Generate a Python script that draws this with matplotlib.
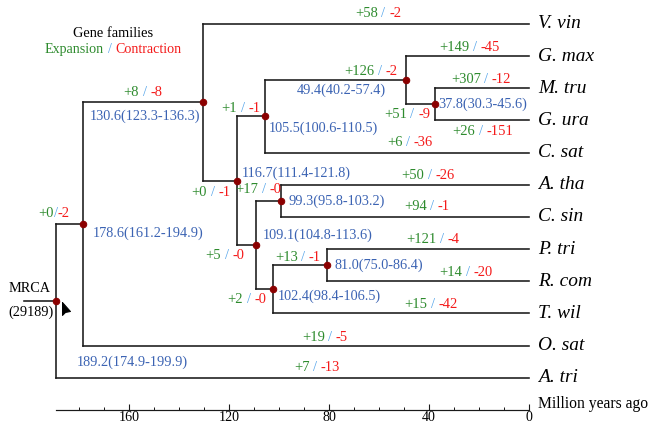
import matplotlib
matplotlib.use('Agg')
import matplotlib.pyplot as plt
import matplotlib.transforms as mtransforms
from matplotlib.offsetbox import TextArea, HPacker, AnnotationBbox

plt.rcParams['font.family'] = ['Liberation Serif', 'DejaVu Serif']

# ---- data -------------------------------------------------------------
leaves = ['V. vin', 'G. max', 'M. tru', 'G. ura', 'C. sat', 'A. tha',
          'C. sin', 'P. tri', 'R. com', 'T. wil', 'O. sat', 'A. tri']

node_names = ['root', 'n178', 'n130', 'n116', 'n105', 'n49', 'n37',
              'n109', 'n99', 'n102', 'n81']
node_age = [189.2, 178.6, 130.6, 116.7, 105.5, 49.4, 37.8, 109.1, 99.3, 102.4, 81.0]
node_lo = [174.9, 161.2, 123.3, 111.4, 100.6, 40.2, 30.3, 104.8, 95.8, 98.4, 75.0]
node_hi = [199.9, 194.9, 136.3, 121.8, 110.5, 57.4, 45.6, 113.6, 103.2, 106.5, 86.4]
node_children = {
    'root': ['n178', 'A. tri'],
    'n178': ['n130', 'O. sat'],
    'n130': ['V. vin', 'n116'],
    'n116': ['n105', 'n109'],
    'n105': ['n49', 'C. sat'],
    'n49': ['G. max', 'n37'],
    'n37': ['M. tru', 'G. ura'],
    'n109': ['n99', 'n102'],
    'n99': ['A. tha', 'C. sin'],
    'n102': ['n81', 'T. wil'],
    'n81': ['P. tri', 'R. com'],
}

# gene family expansion / contraction on the branch leading to each clade
branch = ['V. vin', 'G. max', 'n49', 'M. tru', 'n37', 'G. ura', 'C. sat',
          'A. tha', 'C. sin', 'P. tri', 'R. com', 'T. wil', 'O. sat', 'A. tri',
          'n130', 'n105', 'n116', 'n99', 'n178', 'n109', 'n81', 'n102']
expansion = [58, 149, 126, 307, 51, 26, 6, 50, 94, 121, 14, 15, 19, 7,
             8, 1, 0, 17, 0, 5, 13, 2]
contraction = [2, 45, 2, 12, 9, 151, 36, 26, 1, 4, 20, 42, 5, 13,
               8, 1, 1, 0, 2, 0, 1, 0]

mrca_families = 29189
ticks_major = [160, 120, 80, 40, 0]
ticks_minor = [180, 170, 150, 140, 130, 110, 100, 90, 70, 60, 50, 30, 20, 10]

# ---- layout (label placement only) -------------------------------------
# count label: x position (Myr) along the branch, vertical pixel shift (down +)
count_pos = {
    'V. vin': (60.4, -10), 'G. max': (23.6, -9), 'n49': (63.2, -9),
    'M. tru': (19.2, -9), 'n37': (48.8, 10), 'G. ura': (18.4, 11),
    'C. sat': (47.6, -10), 'A. tha': (40.4, -9), 'C. sin': (40.8, -10),
    'P. tri': (38.4, -10), 'R. com': (25.2, -9), 'T. wil': (39.2, -9),
    'O. sat': (81.6, -8), 'A. tri': (84.8, -10), 'n130': (154.4, -10),
    'n105': (115.2, -8), 'n116': (127.2, 12), 'n99': (108.4, -11),
    'n178': (190.0, -11), 'n109': (121.6, 10), 'n81': (92.4, -8),
    'n102': (112.8, 10),
}
# age label: pixel offset of its left edge from the node (down +)
age_off = {
    'root': (21, 61), 'n178': (10, 9), 'n130': (-113, 14), 'n116': (5, -8),
    'n105': (4, 12), 'n49': (-109, 10), 'n37': (4, 0), 'n109': (7, -10),
    'n99': (8, 0), 'n102': (5, 7), 'n81': (8, 0),
}

GREEN = '#2E8B2E'
RED = '#F41A1A'
BLUE = '#3B63B3'
SLASH = '#55A5EA'
LINE = '#1A1A1A'
DOT = '#8B0000'

FS_COUNT = 14.5
FS_AGE = 14.3
FS_LEAF = 19.4

# ---- tree coordinates --------------------------------------------------
age = dict(zip(node_names, node_age))
ypos = {}
for i, lf in enumerate(leaves):
    age[lf] = 0.0
    ypos[lf] = float(i)


def place(n):
    if n in ypos:
        return ypos[n]
    ys = [place(c) for c in node_children[n]]
    ypos[n] = sum(ys) / len(ys)
    return ypos[n]


place('root')

# ---- figure -------------------------------------------------------------
W, H = 650, 426
fig = plt.figure(figsize=(W / 72, H / 72), dpi=72)
ax = fig.add_axes([56 / W, 16 / H, (529 - 56) / W, 1 - 16 / H])
ax.set_xlim(189.2, 0)
ax.set_ylim(12, -24 / 32.17)

for s in ['top', 'left', 'right']:
    ax.spines[s].set_visible(False)
ax.spines['bottom'].set_linewidth(1.2)
ax.spines['bottom'].set_color(LINE)
ax.set_yticks([])
ax.set_xticks(ticks_major)
ax.set_xticklabels([str(t) for t in ticks_major])
ax.set_xticks(ticks_minor, minor=True)
ax.tick_params(axis='x', which='major', direction='in', length=6, width=1.1,
               pad=1, labelsize=14, color=LINE)
ax.tick_params(axis='x', which='minor', direction='in', length=3.5, width=1.0,
               color=LINE)
ax.annotate('Million years ago', (1.0, 0.0), xycoords='axes fraction',
            xytext=(9, -2), textcoords='offset points', fontsize=15.6,
            ha='left', va='bottom', annotation_clip=False)

# branches
for n in node_names:
    cs = node_children[n]
    ys = [ypos[c] for c in cs]
    ax.plot([age[n], age[n]], [min(ys), max(ys)], color=LINE, lw=1.6,
            solid_capstyle='projecting', clip_on=False)
    for c in cs:
        ax.plot([age[n], age[c]], [ypos[c], ypos[c]], color=LINE, lw=1.6,
                solid_capstyle='projecting', clip_on=False)
# root stub
ax.plot([age['root'], age['root'] + 12.8], [ypos['root'], ypos['root']],
        color=LINE, lw=1.6, clip_on=False)

ax.plot([age[n] for n in node_names], [ypos[n] for n in node_names], 'o',
        color=DOT, ms=6.5, zorder=4, clip_on=False)

# leaf names
for lf in leaves:
    ax.annotate(lf, (0, ypos[lf]), xytext=(9, 0), textcoords='offset points',
                fontsize=FS_LEAF, style='italic', ha='left', va='center')

# node ages
for n, a, lo, hi in zip(node_names, node_age, node_lo, node_hi):
    dx, dy = age_off[n]
    ax.annotate(f'{a:.1f}({lo:.1f}-{hi:.1f})', (a, ypos[n]), xytext=(dx, -dy),
                textcoords='offset points', fontsize=FS_AGE, color=BLUE,
                ha='left', va='center', annotation_clip=False)

# expansion / contraction counts
for b, e, c in zip(branch, expansion, contraction):
    x, dy = count_pos[b]
    sep = 0 if b == 'n178' else 3.6
    parts = [TextArea(f'+{e}', textprops=dict(color=GREEN, fontsize=FS_COUNT)),
             TextArea('/', textprops=dict(color=SLASH, fontsize=FS_COUNT)),
             TextArea(f'-{c}', textprops=dict(color=RED, fontsize=FS_COUNT))]
    box = HPacker(children=parts, sep=sep, pad=0, align='baseline')
    ab = AnnotationBbox(box, (x, ypos[b]), xybox=(0, -dy), xycoords='data',
                        boxcoords='offset points', frameon=False, pad=0,
                        box_alignment=(0.5, 0.5), annotation_clip=False)
    ax.add_artist(ab)

# legend text
ax.text(166.4, 0.31, 'Gene families', fontsize=14.4, ha='center', va='center')
leg = HPacker(children=[TextArea('Expansion', textprops=dict(color=GREEN, fontsize=14)),
                        TextArea('/', textprops=dict(color=SLASH, fontsize=14)),
                        TextArea('Contraction', textprops=dict(color=RED, fontsize=14))],
              sep=3.5, pad=0, align='baseline')
ax.add_artist(AnnotationBbox(leg, (166.4, 0.31), xybox=(0, -16), xycoords='data',
                             boxcoords='offset points', frameon=False, pad=0,
                             box_alignment=(0.5, 0.5), annotation_clip=False))

# MRCA
ax.annotate('MRCA', (age['root'], ypos['root']), xytext=(-26, 12),
            textcoords='offset points', fontsize=14.3, ha='center', va='center',
            annotation_clip=False)
ax.annotate(f'({mrca_families})', (age['root'], ypos['root']), xytext=(-25, -11),
            textcoords='offset points', fontsize=14.3, ha='center', va='center',
            annotation_clip=False)

# pointer
pointer = [(0, 0), (0, -13), (3, -10), (8, -9), (0, 0)]
tr = mtransforms.offset_copy(ax.transData, fig=fig, x=6, y=-1, units='points')
ax.plot(age['root'], ypos['root'], marker=pointer, ms=26, color='black',
        mec='black', transform=tr, clip_on=False, zorder=5)

# panel letter (cut off at top)
fig.text(0.0, 1 - 3 / H, 'B', fontsize=20, weight='bold', ha='left', va='bottom')

fig.savefig('out.png', dpi=72)
